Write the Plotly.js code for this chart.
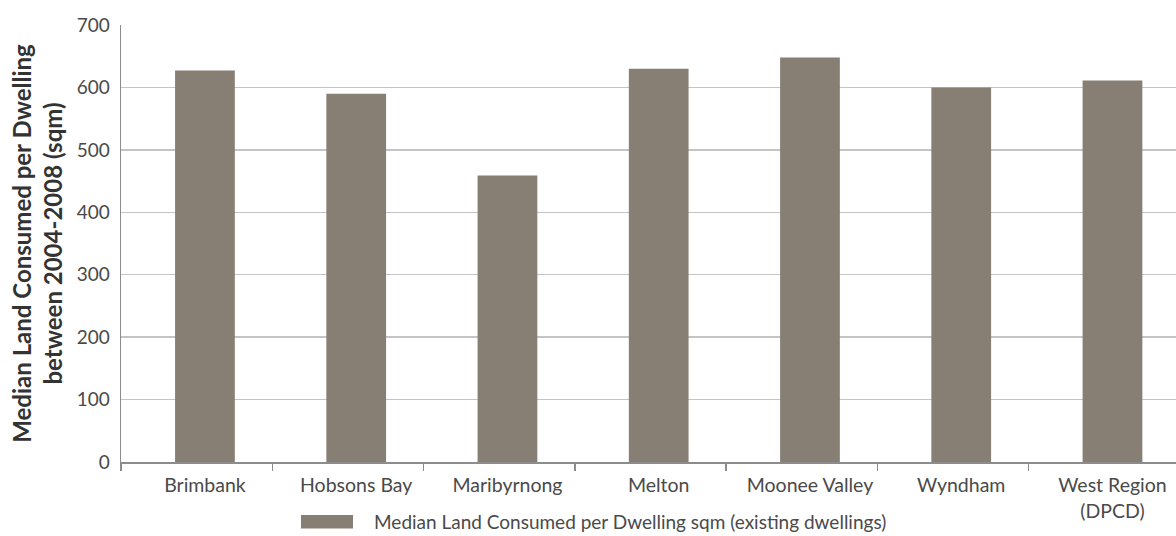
<!DOCTYPE html>
<html>
<head>
<meta charset="utf-8">
<script src="https://cdn.plot.ly/plotly-3.0.1.min.js"></script>
<style>
  html, body { margin: 0; padding: 0; background: #ffffff; }
  #chart { width: 1176px; height: 536px; }
</style>
</head>
<body>
<div id="chart"></div>
<script>
// Median land consumed per dwelling, 2004-2008, by municipality (sqm)
const councils = ['Brimbank', 'Hobsons Bay', 'Maribyrnong', 'Melton', 'Moonee Valley', 'Wyndham', 'West Region<br>(DPCD)'];
const medianLand = [627, 590, 459, 630, 648, 600, 611];
const seriesName = 'Median Land Consumed per Dwelling sqm (existing dwellings)';
const yTicks = [0, 100, 200, 300, 400, 500, 600, 700];

const barColor = '#877f74';
const textColor = '#4a4a4a';
const fontFamily = 'Lato, "Open Sans", sans-serif';

// category boundaries used for the tick marks on the category axis
const boundaries = councils.map((c, i) => i - 0.555);

const xRange = [-0.555, 6.42];

const data = [
  {
    type: 'bar',
    x: councils,
    y: medianLand,
    name: seriesName,
    marker: { color: barColor, line: { width: 0 } },
    width: 0.395,
    showlegend: false,
    hoverinfo: 'x+y'
  },
  {
    // invisible trace so the tick-mark axis gets drawn
    type: 'scatter',
    x: [xRange[0]],
    y: [0],
    xaxis: 'x2',
    mode: 'markers',
    marker: { opacity: 0 },
    showlegend: false,
    hoverinfo: 'skip'
  }
];

const layout = {
  width: 1176,
  height: 536,
  margin: { l: 121, r: 0, t: 25, b: 74 },
  paper_bgcolor: '#ffffff',
  plot_bgcolor: '#ffffff',
  font: { family: fontFamily, color: textColor, size: 19 },
  xaxis: {
    type: 'category',
    range: xRange,
    showgrid: false,
    showline: false,
    ticks: 'outside',
    ticklen: 6,
    tickcolor: 'rgba(0,0,0,0)',
    tickfont: { size: 19.5, color: textColor },
    fixedrange: true
  },
  xaxis2: {
    overlaying: 'x',
    type: 'linear',
    range: xRange,
    tickvals: boundaries,
    ticktext: boundaries.map(() => ''),
    ticks: 'outside',
    ticklen: 7,
    tickwidth: 1.5,
    tickcolor: '#8c8c8c',
    showline: true,
    linecolor: '#8c8c8c',
    linewidth: 1.5,
    showgrid: false,
    zeroline: false,
    anchor: 'y',
    side: 'bottom',
    fixedrange: true
  },
  yaxis: {
    range: [0, 700],
    tickvals: yTicks,
    showgrid: true,
    gridcolor: '#c4c4c4',
    gridwidth: 1.5,
    zeroline: false,
    showline: true,
    linecolor: '#8c8c8c',
    linewidth: 1.5,
    ticks: 'outside',
    ticklen: 6,
    tickcolor: 'rgba(0,0,0,0)',
    tickfont: { size: 19, color: textColor },
    title: {
      text: 'Median Land Consumed per Dwelling<br>between 2004-2008 (sqm)',
      font: { size: 24, color: '#333333', family: fontFamily, weight: 'bold' },
      standoff: 7
    },
    automargin: false,
    fixedrange: true
  },
  shapes: [
    {
      // legend swatch
      type: 'rect', xref: 'paper', yref: 'paper',
      x0: (301 - 121) / 1055, x1: (353 - 121) / 1055,
      y0: -0.152, y1: -0.121,
      fillcolor: barColor, line: { width: 0 }
    }
  ],
  annotations: [
    {
      xref: 'paper', yref: 'paper',
      x: (373 - 121) / 1055, y: -0.136,
      xanchor: 'left', yanchor: 'middle',
      text: seriesName,
      showarrow: false,
      borderpad: 0,
      font: { size: 19, color: textColor, family: fontFamily }
    }
  ]
};

Plotly.newPlot('chart', data, layout, { displayModeBar: false, staticPlot: true });
</script>
</body>
</html>
